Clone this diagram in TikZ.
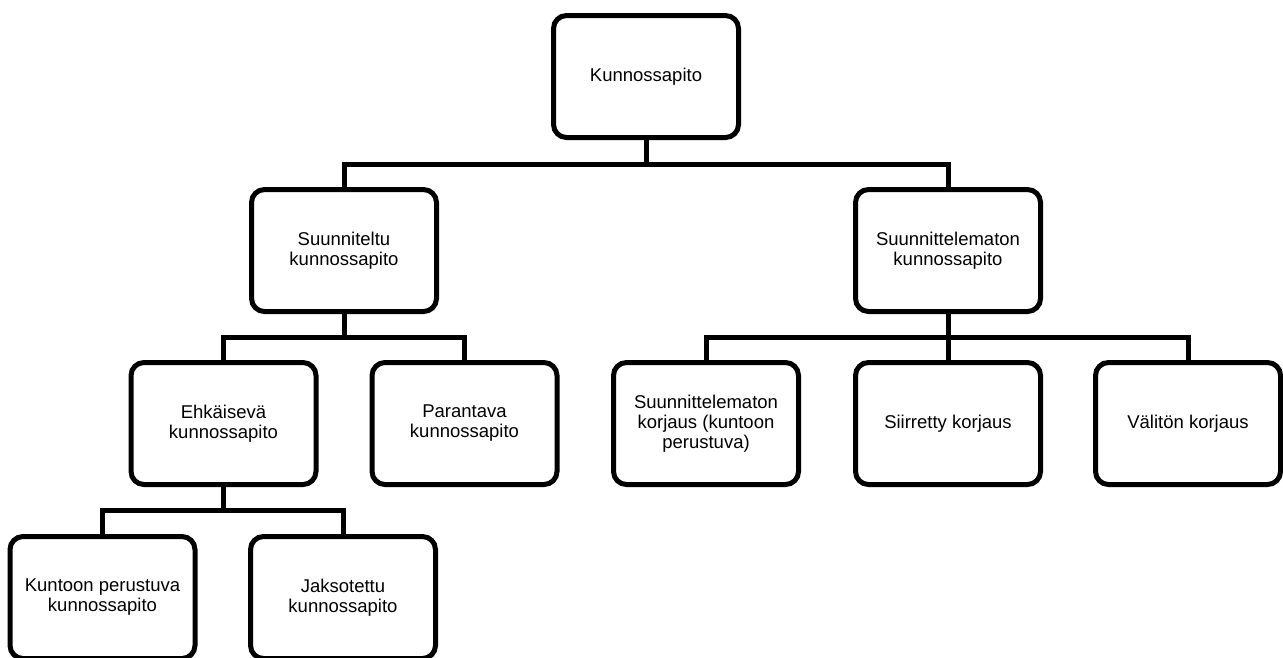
\documentclass[tikz,border=0pt]{standalone}
\usepackage{fontspec}
\setmainfont{Liberation Sans}
\begin{document}
\begin{tikzpicture}[x=1pt,y=-1pt,
  box/.style={draw=black, line width=5pt, rounded corners=13pt, fill=white,
    minimum width=185pt, minimum height=122pt, inner sep=0pt, align=center,
    font=\fontsize{18.5}{20}\selectfont},
  conn/.style={draw=black, line width=5pt, line join=miter}]
\useasboundingbox (0,0) rectangle (1283,657);
\clip (0,0) rectangle (1283,657);
\node[box] (K)  at (646,76.5) {Kunnossapito};
\node[box] (S1) at (344,250.5) {Suunniteltu\\kunnossapito};
\node[box] (S2) at (948,250.5) {Suunnittelematon\\kunnossapito};
\node[box] (E)  at (223.5,423.5) {Ehkäisevä\\kunnossapito};
\node[box] (P)  at (464.5,423.5) {Parantava\\kunnossapito};
\node[box] (SK) at (706,423.5) {Suunnittelematon\\korjaus (kuntoon\\perustuva)};
\node[box] (SI) at (948,423.5) {Siirretty korjaus};
\node[box] (V)  at (1188,423.5) {Välitön korjaus};
\node[box] (KU) at (102.5,597.5) {Kuntoon perustuva\\kunnossapito};
\node[box] (J)  at (343,597.5) {Jaksotettu\\kunnossapito};
\coordinate (j1) at (646,164);
\coordinate (j2) at (344,337.5);
\coordinate (j3) at (948,337.5);
\coordinate (j4) at (223.5,510.5);
\draw[conn] (K.south) -- (j1);
\draw[conn] (S1.north) |- (j1) -| (S2.north);
\draw[conn] (S1.south) -- (j2);
\draw[conn] (E.north) |- (j2) -| (P.north);
\draw[conn] (S2.south) -- (j3);
\draw[conn] (SK.north) |- (j3) -| (V.north);
\draw[conn] (j3) -- (SI.north);
\draw[conn] (E.south) -- (j4);
\draw[conn] (KU.north) |- (j4) -| (J.north);
\end{tikzpicture}
\end{document}
